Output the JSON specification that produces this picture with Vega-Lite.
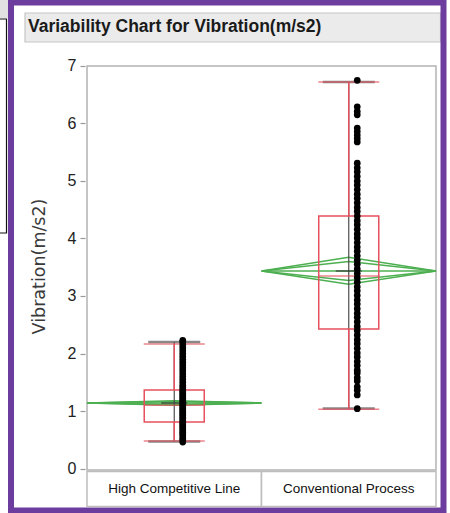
{
  "$schema": "https://vega.github.io/schema/vega-lite/v6.json",
  "width": 450,
  "height": 513,
  "autosize": {"type": "none"},
  "padding": 0,
  "background": "white",
  "config": {"view": {"stroke": null}},
  "datasets": {
    "summary": [
      {"group": "High Competitive Line", "q1": 0.81, "median": 1.1, "q3": 1.365, "lo": 0.478, "hi": 2.165, "min": 0.47, "max": 2.2, "mean": 1.139},
      {"group": "Conventional Process", "q1": 2.426, "median": 3.348, "q3": 4.391, "lo": 1.03, "hi": 6.72, "min": 1.045, "max": 6.72, "mean": 3.435}
    ],
    "diamond": [
      {"group": "High Competitive Line", "shape": "outer", "seq": 1, "vertex": "L", "v": 1.139},
      {"group": "High Competitive Line", "shape": "outer", "seq": 2, "vertex": "C", "v": 1.178},
      {"group": "High Competitive Line", "shape": "outer", "seq": 3, "vertex": "R", "v": 1.139},
      {"group": "High Competitive Line", "shape": "outer", "seq": 4, "vertex": "C", "v": 1.1},
      {"group": "High Competitive Line", "shape": "outer", "seq": 5, "vertex": "L", "v": 1.139},
      {"group": "High Competitive Line", "shape": "inner", "seq": 1, "vertex": "L", "v": 1.139},
      {"group": "High Competitive Line", "shape": "inner", "seq": 2, "vertex": "C", "v": 1.166},
      {"group": "High Competitive Line", "shape": "inner", "seq": 3, "vertex": "R", "v": 1.139},
      {"group": "High Competitive Line", "shape": "inner", "seq": 4, "vertex": "C", "v": 1.112},
      {"group": "High Competitive Line", "shape": "inner", "seq": 5, "vertex": "L", "v": 1.139},
      {"group": "High Competitive Line", "shape": "mean", "seq": 1, "vertex": "L", "v": 1.139},
      {"group": "High Competitive Line", "shape": "mean", "seq": 2, "vertex": "R", "v": 1.139},
      {"group": "Conventional Process", "shape": "outer", "seq": 1, "vertex": "L", "v": 3.435},
      {"group": "Conventional Process", "shape": "outer", "seq": 2, "vertex": "C", "v": 3.675},
      {"group": "Conventional Process", "shape": "outer", "seq": 3, "vertex": "R", "v": 3.435},
      {"group": "Conventional Process", "shape": "outer", "seq": 4, "vertex": "C", "v": 3.205},
      {"group": "Conventional Process", "shape": "outer", "seq": 5, "vertex": "L", "v": 3.435},
      {"group": "Conventional Process", "shape": "inner", "seq": 1, "vertex": "L", "v": 3.435},
      {"group": "Conventional Process", "shape": "inner", "seq": 2, "vertex": "C", "v": 3.601},
      {"group": "Conventional Process", "shape": "inner", "seq": 3, "vertex": "R", "v": 3.435},
      {"group": "Conventional Process", "shape": "inner", "seq": 4, "vertex": "C", "v": 3.269},
      {"group": "Conventional Process", "shape": "inner", "seq": 5, "vertex": "L", "v": 3.435},
      {"group": "Conventional Process", "shape": "mean", "seq": 1, "vertex": "L", "v": 3.435},
      {"group": "Conventional Process", "shape": "mean", "seq": 2, "vertex": "R", "v": 3.435}
    ],
    "points": [
      {"group": "High Competitive Line", "v": 0.46}, {"group": "High Competitive Line", "v": 0.5}, {"group": "High Competitive Line", "v": 0.53},
      {"group": "High Competitive Line", "v": 0.57}, {"group": "High Competitive Line", "v": 0.6}, {"group": "High Competitive Line", "v": 0.63},
      {"group": "High Competitive Line", "v": 0.66}, {"group": "High Competitive Line", "v": 0.69}, {"group": "High Competitive Line", "v": 0.72},
      {"group": "High Competitive Line", "v": 0.75}, {"group": "High Competitive Line", "v": 0.78}, {"group": "High Competitive Line", "v": 0.8},
      {"group": "High Competitive Line", "v": 0.83}, {"group": "High Competitive Line", "v": 0.86}, {"group": "High Competitive Line", "v": 0.89},
      {"group": "High Competitive Line", "v": 0.92}, {"group": "High Competitive Line", "v": 0.95}, {"group": "High Competitive Line", "v": 0.98},
      {"group": "High Competitive Line", "v": 1.01}, {"group": "High Competitive Line", "v": 1.04}, {"group": "High Competitive Line", "v": 1.07},
      {"group": "High Competitive Line", "v": 1.1}, {"group": "High Competitive Line", "v": 1.13}, {"group": "High Competitive Line", "v": 1.16},
      {"group": "High Competitive Line", "v": 1.19}, {"group": "High Competitive Line", "v": 1.22}, {"group": "High Competitive Line", "v": 1.25},
      {"group": "High Competitive Line", "v": 1.28}, {"group": "High Competitive Line", "v": 1.31}, {"group": "High Competitive Line", "v": 1.34},
      {"group": "High Competitive Line", "v": 1.37}, {"group": "High Competitive Line", "v": 1.41}, {"group": "High Competitive Line", "v": 1.45},
      {"group": "High Competitive Line", "v": 1.5}, {"group": "High Competitive Line", "v": 1.55}, {"group": "High Competitive Line", "v": 1.6},
      {"group": "High Competitive Line", "v": 1.65}, {"group": "High Competitive Line", "v": 1.7}, {"group": "High Competitive Line", "v": 1.75},
      {"group": "High Competitive Line", "v": 1.8}, {"group": "High Competitive Line", "v": 1.85}, {"group": "High Competitive Line", "v": 1.9},
      {"group": "High Competitive Line", "v": 1.95}, {"group": "High Competitive Line", "v": 2.0}, {"group": "High Competitive Line", "v": 2.05},
      {"group": "High Competitive Line", "v": 2.1}, {"group": "High Competitive Line", "v": 2.15}, {"group": "High Competitive Line", "v": 2.2},
      {"group": "High Competitive Line", "v": 2.23},
      {"group": "Conventional Process", "v": 1.04}, {"group": "Conventional Process", "v": 1.28}, {"group": "Conventional Process", "v": 1.36},
      {"group": "Conventional Process", "v": 1.42}, {"group": "Conventional Process", "v": 1.52}, {"group": "Conventional Process", "v": 1.58},
      {"group": "Conventional Process", "v": 1.66}, {"group": "Conventional Process", "v": 1.71}, {"group": "Conventional Process", "v": 1.79},
      {"group": "Conventional Process", "v": 1.86}, {"group": "Conventional Process", "v": 1.94}, {"group": "Conventional Process", "v": 2.01},
      {"group": "Conventional Process", "v": 2.09}, {"group": "Conventional Process", "v": 2.17}, {"group": "Conventional Process", "v": 2.24},
      {"group": "Conventional Process", "v": 2.32}, {"group": "Conventional Process", "v": 2.4}, {"group": "Conventional Process", "v": 2.47},
      {"group": "Conventional Process", "v": 2.55}, {"group": "Conventional Process", "v": 2.63}, {"group": "Conventional Process", "v": 2.7},
      {"group": "Conventional Process", "v": 2.78}, {"group": "Conventional Process", "v": 2.86}, {"group": "Conventional Process", "v": 2.93},
      {"group": "Conventional Process", "v": 3.01}, {"group": "Conventional Process", "v": 3.09}, {"group": "Conventional Process", "v": 3.16},
      {"group": "Conventional Process", "v": 3.24}, {"group": "Conventional Process", "v": 3.32}, {"group": "Conventional Process", "v": 3.39},
      {"group": "Conventional Process", "v": 3.47}, {"group": "Conventional Process", "v": 3.55}, {"group": "Conventional Process", "v": 3.62},
      {"group": "Conventional Process", "v": 3.7}, {"group": "Conventional Process", "v": 3.78}, {"group": "Conventional Process", "v": 3.85},
      {"group": "Conventional Process", "v": 3.93}, {"group": "Conventional Process", "v": 4.01}, {"group": "Conventional Process", "v": 4.08},
      {"group": "Conventional Process", "v": 4.16}, {"group": "Conventional Process", "v": 4.24}, {"group": "Conventional Process", "v": 4.31},
      {"group": "Conventional Process", "v": 4.39}, {"group": "Conventional Process", "v": 4.47}, {"group": "Conventional Process", "v": 4.54},
      {"group": "Conventional Process", "v": 4.62}, {"group": "Conventional Process", "v": 4.7}, {"group": "Conventional Process", "v": 4.77},
      {"group": "Conventional Process", "v": 4.85}, {"group": "Conventional Process", "v": 4.93}, {"group": "Conventional Process", "v": 5.0},
      {"group": "Conventional Process", "v": 5.08}, {"group": "Conventional Process", "v": 5.16}, {"group": "Conventional Process", "v": 5.23},
      {"group": "Conventional Process", "v": 5.31}, {"group": "Conventional Process", "v": 5.68}, {"group": "Conventional Process", "v": 5.74},
      {"group": "Conventional Process", "v": 5.8}, {"group": "Conventional Process", "v": 5.86}, {"group": "Conventional Process", "v": 5.92},
      {"group": "Conventional Process", "v": 6.15}, {"group": "Conventional Process", "v": 6.21}, {"group": "Conventional Process", "v": 6.29},
      {"group": "Conventional Process", "v": 6.75}
    ]
  },
  "layer": [
    {
      "data": {"values": [{"part": "frame"}]},
      "layer": [
        {
          "mark": {"type": "rect", "fill": "#e2e2e2"},
          "encoding": {
            "x": {"datum": -0.56, "type": "quantitative", "scale": {"domain": [-0.49857, 2.08023], "nice": false, "zero": false}, "axis": null},
            "x2": {"datum": -0.4527},
            "y": {"datum": 8.2, "type": "quantitative", "scale": {"domain": [-0.7739, 8.1478], "nice": false, "zero": false}},
            "y2": {"datum": 7.835}
          }
        },
        {
          "mark": {"type": "rect", "fill": null, "stroke": "#111111", "strokeWidth": 1.2},
          "encoding": {
            "x": {"datum": -0.56, "type": "quantitative"},
            "x2": {"datum": -0.4613},
            "y": {"datum": 7.817, "type": "quantitative"},
            "y2": {"datum": 4.096}
          }
        },
        {
          "mark": {"type": "rect", "fill": "#ebebeb", "stroke": "#c6c6c6", "strokeWidth": 1.2},
          "encoding": {
            "x": {"datum": -0.3553, "type": "quantitative"},
            "x2": {"datum": 2.0258},
            "y": {"datum": 7.9217, "type": "quantitative"},
            "y2": {"datum": 7.4174}
          }
        },
        {
          "mark": {"type": "text", "text": "Variability Chart for Vibration(m/s2)", "align": "left", "baseline": "middle", "font": "Liberation Sans", "fontWeight": "bold", "fontSize": 17.5, "color": "#1a1a1a"},
          "encoding": {
            "x": {"datum": -0.3381, "type": "quantitative"},
            "y": {"datum": 7.67, "type": "quantitative"}
          }
        },
        {
          "mark": {"type": "rect", "fill": "white", "stroke": "#b3b3b3", "strokeWidth": 1.5},
          "encoding": {
            "x": {"datum": 0, "type": "quantitative"},
            "x2": {"datum": 2},
            "y": {
              "datum": 7.0, "type": "quantitative",
              "axis": {
                "values": [0, 1, 2, 3, 4, 5, 6, 7],
                "format": "d",
                "title": "Vibration(m/s2)",
                "offset": -85,
                "domain": false,
                "grid": false,
                "tickSize": 5,
                "tickColor": "#9a9a9a",
                "tickWidth": 1.2,
                "labelPadding": 4,
                "labelFont": "Liberation Sans",
                "labelFontSize": 16,
                "labelColor": "#222222",
                "titleFont": "DejaVu Sans",
                "titleFontSize": 17.5,
                "titleFontWeight": "normal",
                "titleColor": "#3a3a3a",
                "titlePadding": 19,
                "titleY": 266
              }
            },
            "y2": {"datum": -0.026}
          }
        },
        {
          "mark": {"type": "rect", "fill": null, "stroke": "#6c3d9e", "strokeWidth": 6},
          "encoding": {
            "x": {"datum": -0.4355, "type": "quantitative"},
            "x2": {"datum": 2.043},
            "y": {"datum": 8.1043, "type": "quantitative"},
            "y2": {"datum": -0.7304}
          }
        }
      ]
    },
    {
      "resolve": {"scale": {"xOffset": "independent"}},
      "layer": [
        {
          "data": {"name": "summary"},
          "mark": {"type": "rect", "fill": "white", "stroke": "#bdbdbd", "strokeWidth": 1.5},
          "encoding": {
            "x": {"field": "group", "type": "nominal", "scale": {"type": "band", "domain": ["High Competitive Line", "Conventional Process"], "paddingInner": 0, "paddingOuter": 0.2894, "align": 0.86139}, "axis": null},
            "y": {"datum": -0.05, "type": "quantitative"},
            "y2": {"datum": -0.661}
          }
        },
        {
          "data": {"name": "summary"},
          "mark": {"type": "text", "font": "Liberation Sans", "fontSize": 13.5, "color": "#111111", "baseline": "middle"},
          "encoding": {
            "x": {"field": "group", "type": "nominal", "scale": {"type": "band"}},
            "y": {"datum": -0.357, "type": "quantitative"},
            "text": {"field": "group"}
          }
        },
        {
          "data": {"name": "diamond"},
          "mark": {"type": "line", "color": "#4caf50", "strokeWidth": 1.6},
          "encoding": {
            "x": {"field": "group", "type": "nominal", "scale": {"type": "band"}},
            "xOffset": {"field": "vertex", "type": "nominal", "scale": {"type": "point", "domain": ["L", "C", "R"], "padding": 0}},
            "y": {"field": "v", "type": "quantitative"},
            "detail": [{"field": "group"}, {"field": "shape"}],
            "order": {"field": "seq", "type": "quantitative"}
          }
        },
        {
          "data": {"name": "summary"},
          "mark": {"type": "rule", "color": "#4d4d4d", "strokeWidth": 1.2},
          "encoding": {
            "x": {"field": "group", "type": "nominal", "scale": {"type": "band"}},
            "y": {"field": "min", "type": "quantitative"},
            "y2": {"field": "max"}
          }
        },
        {
          "data": {"name": "summary"},
          "mark": {"type": "tick", "color": "#555555", "size": 52, "thickness": 2.5},
          "encoding": {
            "x": {"field": "group", "type": "nominal", "scale": {"type": "band"}},
            "y": {"field": "max", "type": "quantitative"}
          }
        },
        {
          "data": {"name": "summary"},
          "mark": {"type": "tick", "color": "#555555", "size": 52, "thickness": 2.5},
          "encoding": {
            "x": {"field": "group", "type": "nominal", "scale": {"type": "band"}},
            "y": {"field": "min", "type": "quantitative"}
          }
        },
        {
          "data": {"name": "summary"},
          "mark": {"type": "rule", "color": "#e6505e", "strokeWidth": 1.5},
          "encoding": {
            "x": {"field": "group", "type": "nominal", "scale": {"type": "band"}},
            "y": {"field": "q3", "type": "quantitative"},
            "y2": {"field": "hi"}
          }
        },
        {
          "data": {"name": "summary"},
          "mark": {"type": "rule", "color": "#e6505e", "strokeWidth": 1.5},
          "encoding": {
            "x": {"field": "group", "type": "nominal", "scale": {"type": "band"}},
            "y": {"field": "lo", "type": "quantitative"},
            "y2": {"field": "q1"}
          }
        },
        {
          "data": {"name": "summary"},
          "mark": {"type": "bar", "fill": null, "fillOpacity": 0, "stroke": "#e6505e", "strokeWidth": 1.5, "width": {"band": 0.344}},
          "encoding": {
            "x": {"field": "group", "type": "nominal", "scale": {"type": "band"}},
            "y": {"field": "q1", "type": "quantitative"},
            "y2": {"field": "q3"}
          }
        },
        {
          "data": {"name": "summary"},
          "mark": {"type": "tick", "color": "#e6505e", "size": 61, "thickness": 1.5},
          "encoding": {
            "x": {"field": "group", "type": "nominal", "scale": {"type": "band"}},
            "y": {"field": "median", "type": "quantitative"}
          }
        },
        {
          "data": {"name": "summary"},
          "mark": {"type": "tick", "color": "#e6505e", "size": 61, "thickness": 1.5},
          "encoding": {
            "x": {"field": "group", "type": "nominal", "scale": {"type": "band"}},
            "y": {"field": "hi", "type": "quantitative"}
          }
        },
        {
          "data": {"name": "summary"},
          "mark": {"type": "tick", "color": "#e6505e", "size": 61, "thickness": 1.5},
          "encoding": {
            "x": {"field": "group", "type": "nominal", "scale": {"type": "band"}},
            "y": {"field": "lo", "type": "quantitative"}
          }
        },
        {
          "data": {"name": "summary"},
          "mark": {"type": "tick", "color": "#333333", "size": 26, "thickness": 1.6},
          "encoding": {
            "x": {"field": "group", "type": "nominal", "scale": {"type": "band"}},
            "y": {"field": "mean", "type": "quantitative"}
          }
        },
        {
          "data": {"name": "points"},
          "mark": {"type": "point", "filled": true, "color": "black", "size": 45, "opacity": 1, "xOffset": 8.5},
          "encoding": {
            "x": {"field": "group", "type": "nominal", "scale": {"type": "band"}},
            "y": {"field": "v", "type": "quantitative"}
          }
        }
      ]
    }
  ],
  "resolve": {"scale": {"x": "independent"}}
}
